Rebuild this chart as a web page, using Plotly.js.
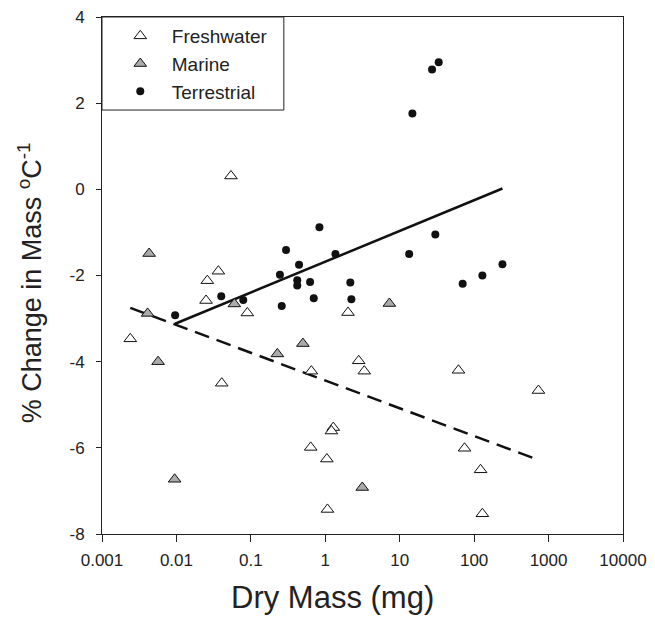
<!DOCTYPE html>
<html>
<head>
<meta charset="utf-8">
<script src="https://cdn.plot.ly/plotly-3.0.1.min.js"></script>
<style>html,body{margin:0;padding:0;background:#fff;}#chart{width:655px;height:638px;}</style>
</head>
<body>
<div id="chart"></div>
<script>
// Freshwater
const freshX = [0.0024, 0.054, 0.0366, 0.026, 0.025, 0.0897, 0.0406, 0.65, 1.28, 1.21, 0.637, 1.05, 1.07, 2.02, 2.81, 3.34, 61.6, 731, 74.3, 122, 129];
const freshY = [-3.47, 0.31, -1.90, -2.12, -2.58, -2.87, -4.50, -4.22, -5.53, -5.61, -5.99, -6.26, -7.43, -2.86, -3.98, -4.22, -4.20, -4.67, -6.01, -6.51, -7.53];
// Marine
const marineX = [0.0043, 0.0041, 0.00567, 0.00946, 0.06, 0.227, 0.50, 7.26, 3.14];
const marineY = [-1.49, -2.88, -4.00, -6.73, -2.66, -3.82, -3.58, -2.65, -6.92];
// Terrestrial
const terrX = [0.0096, 0.04, 0.079, 0.26, 0.246, 0.297, 0.834, 0.444, 1.37, 0.42, 0.42, 0.625, 0.70, 2.17, 2.24, 13.4, 30.1, 70.1, 129, 240, 33.4, 27.2, 14.8];
const terrY = [-2.92, -2.48, -2.57, -2.71, -1.98, -1.41, -0.88, -1.75, -1.50, -2.11, -2.23, -2.15, -2.53, -2.16, -2.55, -1.50, -1.05, -2.19, -2.00, -1.74, 2.95, 2.78, 1.76];
// Regression lines
const terrFitX = [0.0096, 240];
const terrFitY = [-3.12, 0.02];
const aquaFitX = [0.0024, 700];
const aquaFitY = [-2.75, -6.27];
// Tick labels
const xTickVals = [0.001, 0.01, 0.1, 1, 10, 100, 1000, 10000];
const xTickText = ['0.001', '0.01', '0.1', '1', '10', '100', '1000', '10000'];
const yTickVals = [-8, -6, -4, -2, 0, 2, 4];
const yTickText = ['-8', '-6', '-4', '-2', '0', '2', '4'];

const traces = [
  {x: terrFitX, y: terrFitY, mode: 'lines', line: {color: '#111', width: 2.5}, showlegend: false, hoverinfo: 'skip'},
  {x: aquaFitX, y: aquaFitY, mode: 'lines', line: {color: '#111', width: 2.5, dash: '15px,8px'}, showlegend: false, hoverinfo: 'skip'},
  {x: freshX, y: freshY, mode: 'markers', name: 'Freshwater',
   marker: {symbol: 'triangle-up', size: 11, color: '#ffffff', line: {color: '#111', width: 1}}},
  {x: marineX, y: marineY, mode: 'markers', name: 'Marine',
   marker: {symbol: 'triangle-up', size: 11, color: '#ababab', line: {color: '#111', width: 1}}},
  {x: terrX, y: terrY, mode: 'markers', name: 'Terrestrial',
   marker: {symbol: 'circle', size: 8, color: '#111', line: {color: '#111', width: 0}}}
];

const layout = {
  width: 655, height: 638,
  margin: {l: 102, r: 32, t: 17, b: 104},
  paper_bgcolor: '#fff', plot_bgcolor: '#fff',
  font: {family: 'Liberation Sans, Arial, sans-serif', color: '#222', size: 17},
  showlegend: true,
  legend: {x: 0.013, y: 1.0, xanchor: 'left', yanchor: 'top', borderwidth: 0,
           bgcolor: 'rgba(0,0,0,0)', font: {size: 19, color: '#222'}, tracegroupgap: 0, itemwidth: 53},
  shapes: [
    {type: 'rect', xref: 'paper', yref: 'paper', x0: 0, x1: 0.349, y0: 0.82, y1: 1,
     line: {color: '#222', width: 1}, fillcolor: 'rgba(0,0,0,0)'}
  ],
  annotations: [
    {text: 'Dry Mass (mg)', xref: 'paper', yref: 'paper', x: 0.443, y: -0.122,
     xanchor: 'center', yanchor: 'middle', showarrow: false, font: {size: 31, color: '#222'}},
    {text: '% Change in Mass <sup>o</sup>C<sup>-1</sup>', xref: 'paper', yref: 'paper', x: -0.138, y: 0.485,
     xanchor: 'center', yanchor: 'middle', textangle: -90, showarrow: false, font: {size: 27, color: '#222'}}
  ],
  xaxis: {
    type: 'log', range: [-3, 4], tickvals: xTickVals, ticktext: xTickText,
    showline: true, linecolor: '#222', linewidth: 1, mirror: true,
    ticks: 'outside', ticklen: 7, tickcolor: '#222', showgrid: false, zeroline: false,
    tickfont: {size: 17}, ticklabelstandoff: 4
  },
  yaxis: {
    range: [-8, 4], tickvals: yTickVals, ticktext: yTickText,
    showline: true, linecolor: '#222', linewidth: 1, mirror: true,
    ticks: 'outside', ticklen: 5, tickcolor: '#222', showgrid: false, zeroline: false,
    tickfont: {size: 17}, ticklabelstandoff: 8
  }
};

Plotly.newPlot('chart', traces, layout, {displayModeBar: false, staticPlot: true});
</script>
</body>
</html>
